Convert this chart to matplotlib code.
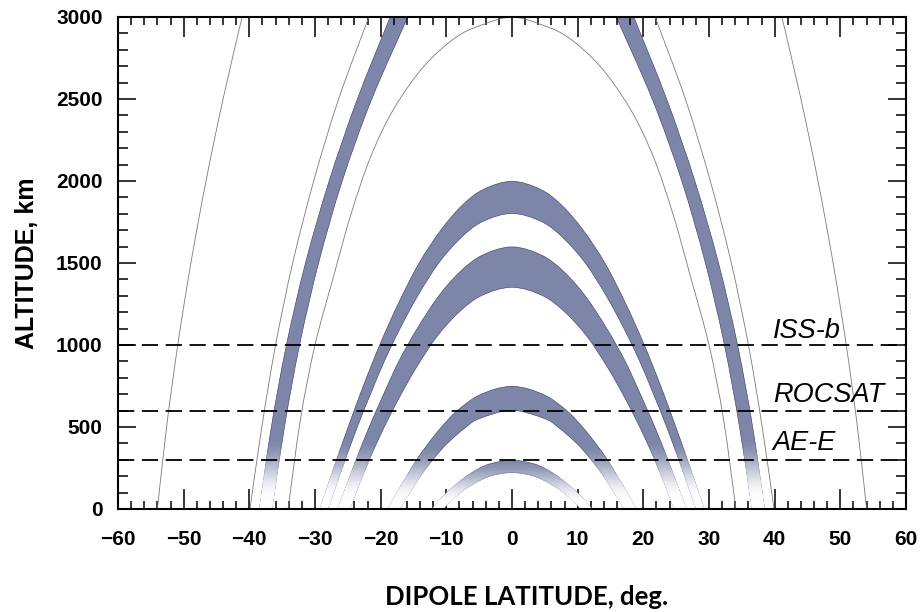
import numpy as np
import matplotlib
matplotlib.use("Agg")
from matplotlib import pyplot as plt
from matplotlib.patches import PathPatch
from matplotlib.path import Path
from matplotlib.ticker import MultipleLocator

# Field lines: right half, (latitude deg, altitude km),
# from the top of each line down to the ground. Lines are symmetric about 0.
band_300 = [(0, 300), (3.1, 280), (5.0, 250), (7.0, 200), (8.6, 150), (10.0, 100), (11.2, 50), (12.2, 0)]
band_220 = [(0, 220), (3.2, 200), (5.9, 150), (7.8, 100), (9.2, 50), (10.5, 0)]
band_750 = [(0, 750), (4.8, 700), (8.4, 600), (10.8, 500), (12.8, 400), (14.6, 300), (16.1, 200), (17.6, 100), (18.9, 0)]
band_600 = [(0, 600), (4.9, 550), (6.9, 500), (9.8, 400), (12.0, 300), (13.9, 200), (15.5, 100), (17.0, 0)]
band_1600 = [(0, 1600), (4.5, 1550), (7.9, 1450), (11.2, 1300), (14.5, 1100), (17.3, 900), (19.6, 700), (21.8, 500), (23.8, 300), (25.2, 150), (26.6, 0)]
band_1350 = [(0, 1350), (4.6, 1300), (8.0, 1200), (11.4, 1050), (14.7, 850), (17.5, 650), (20.0, 450), (22.2, 250), (23.7, 100), (24.7, 0)]
band_2000 = [(0, 2000), (4.4, 1950), (7.7, 1850), (10.9, 1700), (14.2, 1500), (17.4, 1250), (20.2, 1000), (22.7, 750), (25.0, 500), (27.2, 250), (29.3, 0)]
band_1800 = [(0, 1800), (4.5, 1750), (7.8, 1650), (11.1, 1500), (14.3, 1300), (17.0, 1100), (19.4, 900), (21.5, 700), (23.5, 500), (25.8, 250), (28.0, 0)]
band_top_outer = [(18.6, 3000), (23.6, 2500), (27.9, 2000), (31.5, 1500), (34.4, 1000), (36.7, 500), (38.5, 0)]
band_top_inner = [(15.8, 3000), (21.3, 2500), (25.8, 2000), (29.4, 1500), (32.3, 1000), (34.6, 500), (36.5, 0)]

thin_a = [(0, 3000), (4.0, 2960), (8.4, 2880), (13.4, 2700), (18.0, 2440), (21.5, 2150),
          (24.5, 1800), (27.3, 1400), (30.0, 1000), (32.2, 550), (34.1, 0)]
thin_b = [(21.8, 3000), (26.4, 2500), (30.2, 2000), (33.4, 1500), (36.0, 1000), (38.1, 500), (39.9, 0)]
thin_c = [(41.1, 3000), (44.0, 2500), (46.6, 2000), (48.9, 1500), (50.9, 1000), (52.6, 500), (54.0, 0)]

bands = [(band_300, band_220), (band_750, band_600), (band_1600, band_1350),
         (band_2000, band_1800), (band_top_outer, band_top_inner)]
thin_lines = [thin_a, thin_b, thin_c]

# satellite altitudes
orbit_alt = [1000, 600, 300]
orbit_names = ["ISS-b", "ROCSAT", "AE-E"]

x_ticks = [-60, -50, -40, -30, -20, -10, 0, 10, 20, 30, 40, 50, 60]
y_ticks = [0, 500, 1000, 1500, 2000, 2500, 3000]

band_color = "#7d85a8"
# altitude range (km) over which each band fades to white near the ground
fade_range = [(30, 320), (50, 400), (60, 430), (60, 430), (60, 440)]


def mirror(half):
    # left ground -> apex -> right ground, for a line with its apex at 0
    return np.array([(-x, y) for x, y in half[:0:-1]] + list(half), float)


def bezier(pts):
    # smooth curve through the points (Catmull-Rom as cubic Bezier)
    pts = np.asarray(pts, float)
    verts, codes = [], []
    n = len(pts)
    for i in range(n - 1):
        p0 = pts[max(i - 1, 0)]
        p1, p2 = pts[i], pts[i + 1]
        p3 = pts[min(i + 2, n - 1)]
        verts += [p1 + (p2 - p0) / 6, p2 - (p3 - p1) / 6, p2]
        codes += [Path.CURVE4] * 3
    return verts, codes


def curve_path(pts):
    v, c = bezier(pts)
    return Path([pts[0]] + v, [Path.MOVETO] + c)


def region_path(a, b):
    # a runs one way, b the other way back, closed
    va, ca = bezier(a)
    vb, cb = bezier(b)
    verts = [a[0]] + va + [b[0]] + vb + [a[0]]
    codes = [Path.MOVETO] + ca + [Path.LINETO] + cb + [Path.CLOSEPOLY]
    return Path(verts, codes)


def fade(h, lo, hi):
    t = np.clip((h - lo) / (hi - lo), 0, 1)
    return t * t * (3 - 2 * t)


fig = plt.figure(figsize=(9.21, 6.12), dpi=100)
ax = fig.add_axes([118 / 921, 1 - 509 / 612, 788 / 921, 492 / 612])
ax.set_xlim(-60, 60)
ax.set_ylim(0, 3000)

hh = np.linspace(0, 3000, 900)

for (outer, inner), (lo, hi) in zip(bands, fade_range):
    white = np.ones((len(hh), 2, 4))
    white[:, :, 3] = 1 - fade(hh, lo, hi)[:, None]
    if outer[0][0] == 0:
        paths = [region_path(mirror(outer), mirror(inner)[::-1])]
    else:
        o = np.array(outer, float)
        i = np.array(inner, float)[::-1]
        paths = [region_path(o, i), region_path(o * [-1, 1], i * [-1, 1])]
    for p in paths:
        patch = PathPatch(p, facecolor=band_color, edgecolor="#4f5574", lw=0.9, zorder=1)
        ax.add_patch(patch)
        patch.set_clip_path(patch)
        im = ax.imshow(white, extent=[-60, 60, 0, 3000], origin="lower",
                       aspect="auto", interpolation="bilinear", zorder=2)
        im.set_clip_path(patch)

for half in thin_lines:
    if half[0][0] == 0:
        pieces = [mirror(half)]
    else:
        h = np.array(half, float)
        pieces = [h, h * [-1, 1]]
    for pc in pieces:
        ax.add_patch(PathPatch(curve_path(pc), facecolor="none",
                               edgecolor="#7a7a7a", lw=0.6, zorder=3))

for alt in orbit_alt:
    ax.axhline(alt, color="black", lw=1.3, dashes=(9, 4.2), zorder=4)

for alt, name, dy in zip(orbit_alt, orbit_names, [43, 52, 60]):
    ax.text(39.7, alt + dy, name, fontsize=19.5, style="italic",
            family="Liberation Sans", va="baseline", ha="left", zorder=5)

ax.set_xticks(x_ticks)
ax.set_yticks(y_ticks)
ax.xaxis.set_minor_locator(MultipleLocator(2))
ax.yaxis.set_minor_locator(MultipleLocator(100))
ax.tick_params(which="both", direction="in", top=True, right=True, width=1.1)
ax.tick_params(axis="x", which="major", length=14.5, pad=15)
ax.tick_params(axis="x", which="minor", length=6)
ax.tick_params(axis="y", which="major", length=13, pad=11)
ax.tick_params(axis="y", which="minor", length=7)
for lab in ax.get_xticklabels() + ax.get_yticklabels():
    lab.set_fontfamily("Liberation Sans")
    lab.set_fontweight("bold")
    lab.set_fontsize(15)
for sp in ax.spines.values():
    sp.set_linewidth(1.5)
    sp.set_zorder(6)

ax.set_ylabel("ALTITUDE, km", fontsize=18, fontweight="bold",
              family="Liberation Sans", labelpad=12)
fig.text(527 / 921, 1 - 597 / 612, "DIPOLE LATITUDE, deg.", fontsize=18.5,
         fontweight="bold", family="Lato", ha="center", va="center")

fig.savefig("out.png", dpi=100)
